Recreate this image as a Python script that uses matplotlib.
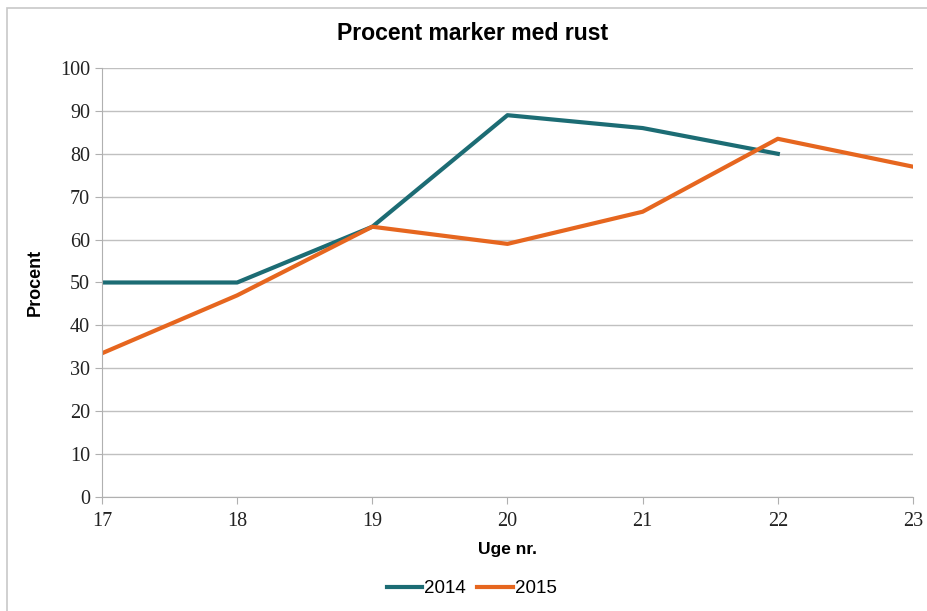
import matplotlib

matplotlib.use("Agg")
import matplotlib.pyplot as plt
from matplotlib.patches import Rectangle

weeks_2014 = [17, 18, 19, 20, 21, 22]
values_2014 = [50, 50, 63, 89, 86, 80]
weeks_2015 = [17, 18, 19, 20, 21, 22, 23]
values_2015 = [33.5, 47, 63, 59, 66.5, 83.5, 77]

sans = "Liberation Sans"
serif = "Liberation Serif"

fig = plt.figure(figsize=(9.28, 6.11), dpi=100)
ax = fig.add_axes([0.1099, 0.1866, 0.8739, 0.7021])

# light frame around the whole chart
fig.patches.append(Rectangle((7 / 928, -0.1), 1.2, 0.987 + 0.1, transform=fig.transFigure,
                             fill=False, edgecolor="#c8c8c8", linewidth=1.2))

ax.plot(weeks_2014, values_2014, color="#1c6c74", linewidth=3.0, label="2014")
ax.plot(weeks_2015, values_2015, color="#e6661f", linewidth=3.0, label="2015")

ax.set_xlim(17, 23)
ax.set_ylim(0, 100)
ax.set_yticks(range(0, 101, 10))
ax.set_xticks(range(17, 24))
ax.grid(True, axis="y", color="#c0c0c0", linewidth=1)
ax.set_axisbelow(True)
for side in ["top", "right"]:
    ax.spines[side].set_visible(False)
for side in ["left", "bottom"]:
    ax.spines[side].set_color("#b0b0b0")
ax.tick_params(axis="both", colors="#b0b0b0", length=5, labelcolor="#222222", labelsize=14.5)
ax.tick_params(axis="x", pad=6)
for lbl in ax.get_xticklabels() + ax.get_yticklabels():
    lbl.set_fontfamily(serif)

fig.text(473 / 928, 1 - 33 / 611, "Procent marker med rust", fontsize=16.6, fontweight="bold",
         family=sans, ha="center", va="center")
ax.set_ylabel("Procent", fontsize=13, fontweight="bold", family=sans, labelpad=12)
ax.set_xlabel("Uge nr.", fontsize=12.5, fontweight="bold", family=sans, labelpad=8)

ax.legend(loc="upper center", bbox_to_anchor=(0.456, -0.155), ncol=2, frameon=False,
          handlelength=1.9, handletextpad=0.1, columnspacing=0.6,
          prop={"family": sans, "size": 13.5})

fig.savefig("out.png", dpi=100)
